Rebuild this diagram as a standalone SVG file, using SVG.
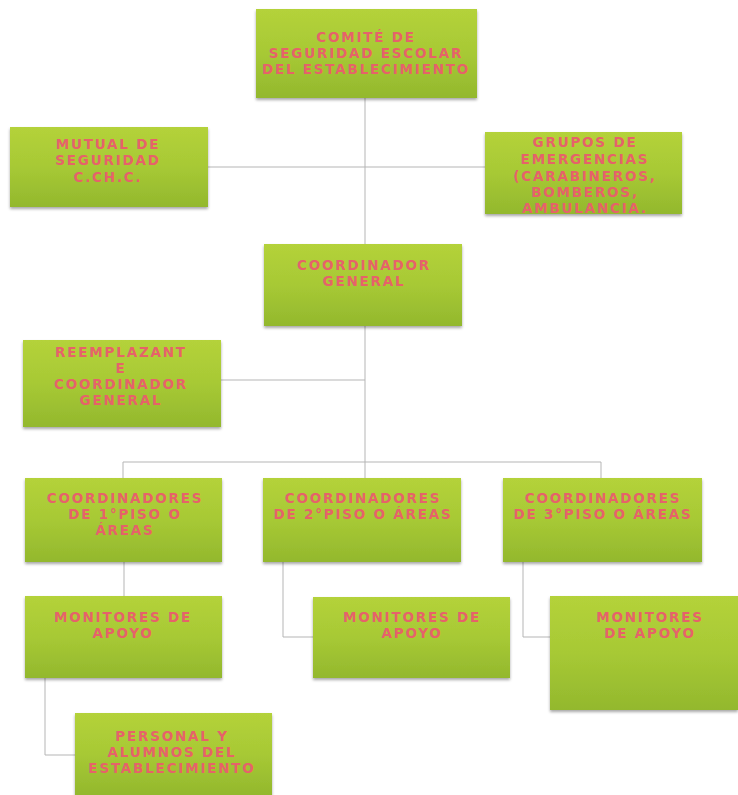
<svg xmlns="http://www.w3.org/2000/svg" width="738" height="795" viewBox="0 0 738 795">
<defs>
<linearGradient id="g" x1="0" y1="0" x2="0" y2="1">
<stop offset="0" stop-color="#b4d23a"/>
<stop offset="0.5" stop-color="#a7c935"/>
<stop offset="1" stop-color="#93b82d"/>
</linearGradient>
<filter id="sh" x="-10%" y="-10%" width="120%" height="130%">
<feGaussianBlur in="SourceAlpha" stdDeviation="1.5"/>
<feOffset dx="0" dy="1.5" result="b"/>
<feComponentTransfer><feFuncA type="linear" slope="0.35"/></feComponentTransfer>
<feMerge><feMergeNode/><feMergeNode in="SourceGraphic"/></feMerge>
</filter>
</defs>
<style>
.box{fill:url(#g);filter:url(#sh);}
.t{font-family:"DejaVu Sans",Verdana,sans-serif;font-weight:bold;font-size:13.5px;letter-spacing:1.8px;fill:#e6626a;text-anchor:middle;}
.c{fill:none;stroke:#b5b5b5;stroke-width:1;}
</style>
<rect width="738" height="795" fill="#ffffff"/>
<g id="connectors">
<path class="c" d="M365 98 V244"/>
<path class="c" d="M208 167 H485"/>
<path class="c" d="M365 326 V478"/>
<path class="c" d="M221 380 H365"/>
<path class="c" d="M123 462 H601"/>
<path class="c" d="M123 462 V478"/>
<path class="c" d="M601 462 V478"/>
<path class="c" d="M124 562 V596"/>
<path class="c" d="M283 562 V637 H313"/>
<path class="c" d="M523 562 V637 H550"/>
<path class="c" d="M45 678 V755 H75"/>
</g>
<g id="n1"><rect class="box" x="256" y="9" width="221" height="89"/>
<text class="t" x="366" y="42">COMITÉ DE</text><text class="t" x="366" y="58">SEGURIDAD ESCOLAR</text><text class="t" x="366" y="74">DEL ESTABLECIMIENTO</text></g>
<g id="n2"><rect class="box" x="10" y="127" width="198" height="80"/>
<text class="t" x="108" y="149">MUTUAL DE</text><text class="t" x="108" y="165">SEGURIDAD</text><text class="t" x="108" y="182">C.CH.C.</text></g>
<g id="n3"><rect class="box" x="485" y="132" width="197" height="82"/>
<text class="t" x="585" y="147">GRUPOS DE</text><text class="t" x="585" y="164">EMERGENCIAS</text><text class="t" x="585" y="181">(CARABINEROS,</text><text class="t" x="585" y="197">BOMBEROS,</text><text class="t" x="585" y="213">AMBULANCIA.</text></g>
<g id="n4"><rect class="box" x="264" y="244" width="198" height="82"/>
<text class="t" x="364" y="270">COORDINADOR</text><text class="t" x="364" y="286">GENERAL</text></g>
<g id="n5"><rect class="box" x="23" y="340" width="198" height="87"/>
<text class="t" x="121" y="357">REEMPLAZANT</text><text class="t" x="121" y="373">E</text><text class="t" x="121" y="389">COORDINADOR</text><text class="t" x="121" y="405">GENERAL</text></g>
<g id="n6"><rect class="box" x="25" y="478" width="197" height="84"/>
<text class="t" x="125" y="503">COORDINADORES</text><text class="t" x="125" y="519">DE 1°PISO O</text><text class="t" x="125" y="535">ÁREAS</text></g>
<g id="n7"><rect class="box" x="263" y="478" width="198" height="84"/>
<text class="t" x="363" y="503">COORDINADORES</text><text class="t" x="363" y="519">DE 2°PISO O ÁREAS</text></g>
<g id="n8"><rect class="box" x="503" y="478" width="199" height="84"/>
<text class="t" x="603" y="503">COORDINADORES</text><text class="t" x="603" y="519">DE 3°PISO O ÁREAS</text></g>
<g id="n9"><rect class="box" x="25" y="596" width="197" height="82"/>
<text class="t" x="123" y="622">MONITORES DE</text><text class="t" x="123" y="638">APOYO</text></g>
<g id="n10"><rect class="box" x="313" y="597" width="197" height="81"/>
<text class="t" x="412" y="622">MONITORES DE</text><text class="t" x="412" y="638">APOYO</text></g>
<g id="n11"><rect class="box" x="550" y="596" width="188" height="114"/>
<text class="t" x="650" y="622">MONITORES</text><text class="t" x="650" y="638">DE APOYO</text></g>
<g id="n12"><rect class="box" x="75" y="713" width="197" height="82"/>
<text class="t" x="172" y="741">PERSONAL Y</text><text class="t" x="172" y="757">ALUMNOS DEL</text><text class="t" x="172" y="773">ESTABLECIMIENTO</text></g>
</svg>
